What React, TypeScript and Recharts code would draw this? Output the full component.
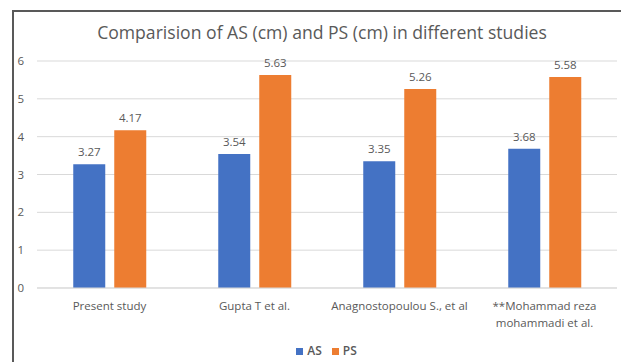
import React from 'react';
import { BarChart, Bar, XAxis, YAxis, CartesianGrid, Legend, LabelList, Text } from 'recharts';

const studies = [
  'Present study',
  'Gupta T et al.',
  'Anagnostopoulou S., et al',
  '**Mohammad reza mohammadi et al.',
];
const asValues = [3.27, 3.54, 3.35, 3.68];
const psValues = [4.17, 5.63, 5.26, 5.58];
const yTicks = [0, 1, 2, 3, 4, 5, 6];

const FONT = '"Open Sans", sans-serif';
const TEXT = '#595959';

// only the long name wraps, like Excel does
const StudyTick = ({ x, y, payload }: any) => (
  <Text
    x={x}
    y={y + 6}
    width={payload.value.length > 28 ? 148 : undefined}
    textAnchor="middle"
    verticalAnchor="start"
    lineHeight={17}
    fill={TEXT}
    style={{ fontSize: 11.5, fontFamily: FONT }}
  >
    {payload.value}
  </Text>
);

export default function App() {
  const data = studies.map((name, i) => ({ name, AS: asValues[i], PS: psValues[i] }));

  return (
    <div style={{ position: 'relative', width: 629, height: 362, margin: '-8px 0 0 -8px', overflow: 'hidden', background: '#fff' }}>
      <div
        style={{
          position: 'absolute',
          left: 12,
          top: 10,
          width: 616,
          height: 380,
          boxSizing: 'border-box',
          border: '2px solid #595959',
        }}
      />
      <div
        style={{
          position: 'absolute',
          left: 14,
          top: 20,
          width: 616,
          textAlign: 'center',
          fontFamily: FONT,
          fontSize: 17.6,
          color: TEXT,
        }}
      >
        Comparision of AS (cm) and PS (cm) in different studies
      </div>
      <div style={{ position: 'absolute', left: 0, top: 0 }}>
        <BarChart
          width={629}
          height={362}
          data={data}
          margin={{ top: 61, right: 12, bottom: 0, left: 0 }}
          barCategoryGap="25%"
          barGap={9}
        >
          <CartesianGrid vertical={false} stroke="#d9d9d9" />
          <XAxis
            dataKey="name"
            height={54}
            interval={0}
            tickLine={false}
            axisLine={{ stroke: '#d9d9d9' }}
            tick={<StudyTick />}
          />
          <YAxis
            width={37}
            domain={[0, 6]}
            ticks={yTicks}
            axisLine={false}
            tickLine={false}
            tickMargin={7}
            tick={{ fill: TEXT, fontSize: 11.5, fontFamily: FONT }}
          />
          <Legend
            verticalAlign="bottom"
            height={20}
            iconType="square"
            iconSize={7}
            wrapperStyle={{ left: 23, fontFamily: FONT, fontSize: 12, fontWeight: 600 }}
            formatter={(v: string) => <span style={{ color: TEXT }}>{v}</span>}
          />
          <Bar dataKey="AS" fill="#4472c4" isAnimationActive={false}>
            <LabelList dataKey="AS" position="top" offset={8} fill={TEXT} fontSize={11.5} fontFamily={FONT} />
          </Bar>
          <Bar dataKey="PS" fill="#ed7d31" isAnimationActive={false}>
            <LabelList dataKey="PS" position="top" offset={8} fill={TEXT} fontSize={11.5} fontFamily={FONT} />
          </Bar>
        </BarChart>
      </div>
    </div>
  );
}
